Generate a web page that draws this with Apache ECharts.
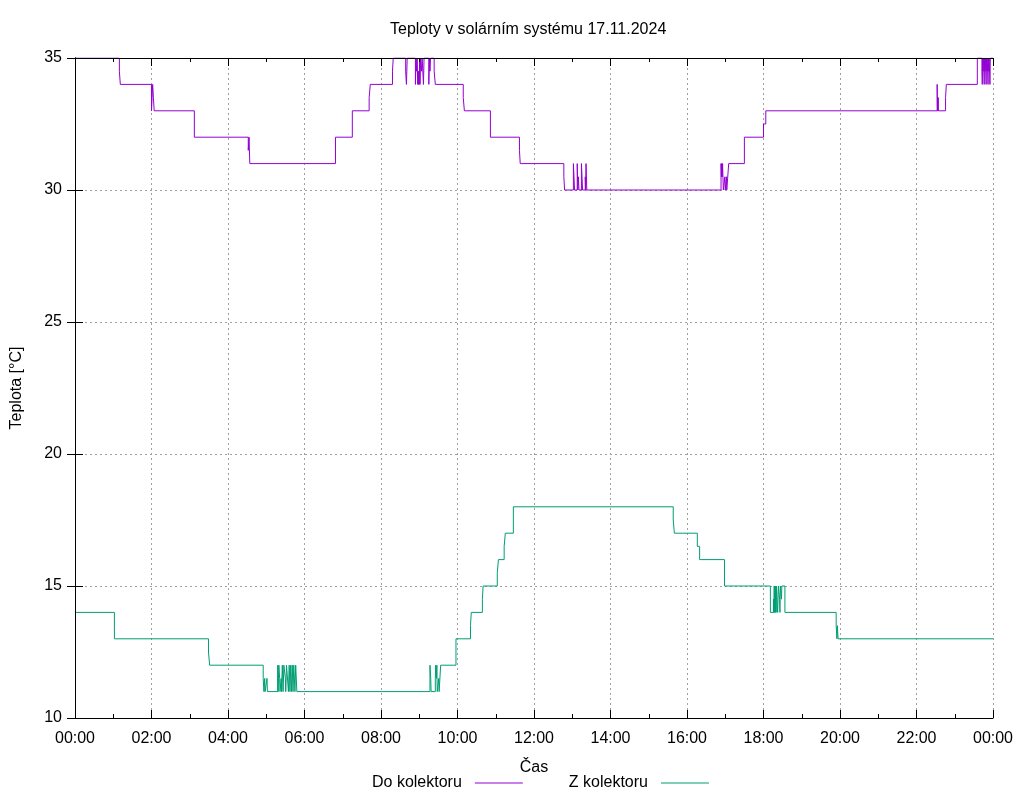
<!DOCTYPE html>
<html>
<head>
<meta charset="utf-8">
<script src="https://cdn.jsdelivr.net/npm/echarts@6/dist/echarts.min.js"></script>
<style>html,body{margin:0;padding:0;background:#fff;}#c{width:1024px;height:800px;}</style>
</head>
<body>
<div id="c"></div>
<script>
// Time in hours since 00:00, temperature in °C (sample-and-hold steps)
const doKolektoru = [
  [0,35],[1.16,34.5],[1.185,34],[2.0,33],[2.03,34],[2.05,33.5],[2.07,33],[3.12,32],
  [4.53,31.5],[4.55,32],[4.57,31],[6.81,32],[7.25,33],[7.69,33.5],[7.72,34],
  [8.30,34.5],[8.32,35],[8.645,34.5],[8.665,34],[8.685,35],[8.90,34],[8.915,35],
  [8.93,34.5],[8.945,35],[8.96,34],[8.97,34.5],[8.98,34],[8.99,34.5],[9.0,34],[9.01,35],
  [9.02,34],[9.035,35],[9.06,34.5],[9.075,35],[9.11,34],[9.125,35],[9.25,34],[9.265,35],
  [9.28,34.5],[9.295,35],[9.39,34.5],[9.42,34],
  [10.15,33.5],[10.18,33],[10.86,32],[11.62,31.5],[11.64,31],[12.78,30.5],[12.80,30],
  [13.03,31],[13.045,30.5],[13.06,30],[13.13,31],[13.145,30],[13.16,30.5],[13.175,30],
  [13.24,31],[13.255,30.5],[13.27,30],[13.34,30.5],[13.35,30],[13.36,31],[13.38,30],
  [16.89,31],[16.90,30.5],[16.91,31],[16.92,30.5],[16.93,31],[16.95,30],[16.99,30.5],
  [17.0,30],[17.03,30.5],[17.04,30],[17.09,31],[17.50,32],[18.0,32.5],[18.06,33],
  [22.54,34],[22.55,33],[22.555,33.5],[22.56,33],[22.565,33.5],[22.57,33],
  [22.76,33.5],[22.78,34],[23.59,35],
  [23.71,34.5],[23.72,34],[23.73,35],[23.74,34.5],[23.75,35],[23.77,34],[23.78,35],
  [23.79,34.5],[23.80,35],[23.82,34],[23.83,35],[23.84,34.5],[23.85,35],[23.87,34],
  [23.88,35],[23.89,34.5],[23.90,35],[23.92,34],[23.93,35],[24,35]
];
const zKolektoru = [
  [0,14],[1.03,13],[3.49,12.5],[3.52,12],
  [4.92,11.5],[4.94,11],[4.96,11.5],[4.97,11],[5.02,11.5],[5.03,11],[5.30,12],[5.31,11],
  [5.33,12],[5.35,11.5],[5.36,11],[5.39,11.5],[5.40,11],[5.42,12],[5.44,11],[5.46,12],
  [5.50,11.5],[5.51,11],[5.53,12],[5.58,11],[5.60,12],[5.62,11],[5.64,12],[5.66,11],
  [5.68,12],[5.70,11],[5.72,12],[5.75,11],[5.77,12],[5.80,11],
  [9.28,12],[9.30,11.5],[9.31,11],[9.42,11.5],[9.43,12],[9.45,11.5],[9.46,12],[9.47,11],
  [9.51,11.5],[9.52,11],[9.56,12],
  [9.96,13],[10.34,13.5],[10.36,14],[10.65,14.5],[10.67,15],[11.04,15.5],[11.07,16],
  [11.22,16.5],[11.25,17],[11.46,18],[15.64,17.5],[15.67,17],[16.27,16.5],[16.33,16],
  [16.98,15],
  [18.18,14],[18.26,14.5],[18.27,14],[18.28,15],[18.29,14],[18.30,15],[18.31,14],
  [18.32,15],[18.33,14],[18.34,15],[18.37,14],[18.39,15],[18.42,14.5],[18.43,14],
  [18.44,15],[18.47,14.5],[18.48,15],[18.56,14],
  [19.90,13.5],[19.92,13],[19.93,13.5],[19.95,13],[24,13]
];
const seriesNames = ['Do kolektoru', 'Z kolektoru'];
const titleText = 'Teploty v solárním systému 17.11.2024';
const xName = 'Čas';
const yName = 'Teplota [°C]';

const FONT = 'Liberation Sans, Arial, sans-serif';
const FS = 16;
const fmtHour = v => String(Math.round(v) % 24).padStart(2, '0') + ':00';
const gridStyle = { show: true, lineStyle: { color: '#a0a0a0', type: [2, 3], width: 1 } };
const axisLine = { show: true, lineStyle: { color: '#000', width: 1 } };

const chart = echarts.init(document.getElementById('c'), null, { renderer: 'canvas' });
chart.setOption({
  animation: false,
  backgroundColor: '#fff',
  textStyle: { fontFamily: FONT },
  title: {
    text: titleText, left: 390, top: 22, padding: 0,
    textStyle: { fontFamily: FONT, fontSize: 16, fontWeight: 'normal', color: '#000' }
  },
  legend: {
    data: seriesNames, left: 372, top: 775, align: 'right', itemGap: 46, padding: 0,
    icon: 'rect', itemWidth: 48, itemHeight: 1,
    textStyle: { fontFamily: FONT, fontSize: FS, color: '#000', padding: [0, 8, 0, 0] }
  },
  grid: { left: 75, right: 31, top: 58, bottom: 82, containLabel: false },
  xAxis: [
    {
      type: 'value', min: 0, max: 24, interval: 2, position: 'bottom',
      name: xName, nameLocation: 'middle', nameGap: 42,
      nameTextStyle: { fontFamily: FONT, fontSize: FS, color: '#000' },
      axisLine: axisLine,
      axisTick: { show: true, inside: true, length: 8, lineStyle: { color: '#000' } },
      minorTick: { show: true, splitNumber: 2, length: 4, lineStyle: { color: '#000' } },
      axisLabel: { formatter: fmtHour, fontFamily: FONT, fontSize: FS, color: '#000', margin: 13 },
      splitLine: gridStyle
    },
    {
      type: 'value', min: 0, max: 24, interval: 2, position: 'top', z: 5,
      axisLine: axisLine,
      axisTick: { show: true, inside: true, length: 8, lineStyle: { color: '#000' } },
      minorTick: { show: true, splitNumber: 2, length: 4, lineStyle: { color: '#000' } },
      axisLabel: { show: false }, splitLine: { show: false }
    }
  ],
  yAxis: [
    {
      type: 'value', min: 10, max: 35, interval: 5, position: 'left',
      name: yName, nameLocation: 'middle', nameGap: 50, nameRotate: 90,
      nameTextStyle: { fontFamily: FONT, fontSize: FS, color: '#000' },
      axisLine: axisLine,
      axisTick: { show: true, inside: true, length: 8, lineStyle: { color: '#000' } },
      axisLabel: { fontFamily: FONT, fontSize: FS, color: '#000', margin: 13 },
      splitLine: gridStyle
    },
    {
      type: 'value', min: 10, max: 35, interval: 5, position: 'right', z: 5,
      axisLine: axisLine,
      axisTick: { show: true, inside: true, length: 8, lineStyle: { color: '#000' } },
      axisLabel: { show: false }, splitLine: { show: false }
    }
  ],
  series: [
    {
      name: seriesNames[0], type: 'line', step: 'end', data: doKolektoru,
      symbol: 'none', xAxisIndex: 0, yAxisIndex: 0, clip: true,
      lineStyle: { color: '#9400d3', width: 1 }, itemStyle: { color: '#9400d3' }
    },
    {
      name: seriesNames[1], type: 'line', step: 'end', data: zKolektoru,
      symbol: 'none', xAxisIndex: 0, yAxisIndex: 0, clip: true,
      lineStyle: { color: '#009e73', width: 1 }, itemStyle: { color: '#009e73' }
    }
  ]
});
</script>
</body>
</html>
